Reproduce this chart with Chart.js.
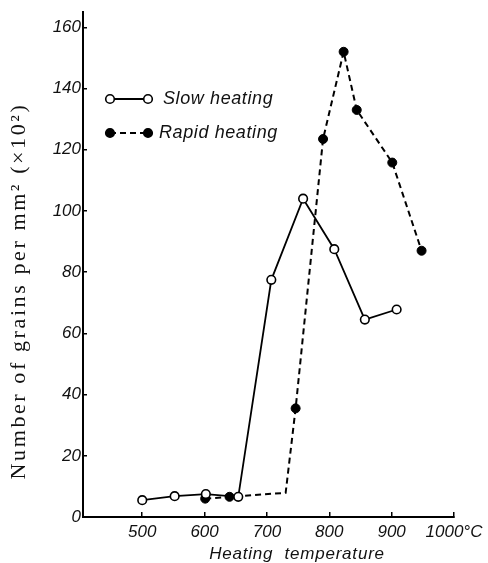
<!DOCTYPE html>
<html>
<head>
<meta charset="utf-8">
<script src="https://cdn.jsdelivr.net/npm/chart.js@4.4.1/dist/chart.umd.min.js"></script>
<style>
  html, body { margin: 0; padding: 0; background: #fff; }
  #wrap { width: 488px; height: 563px; position: relative; }
</style>
</head>
<body>
<div id="wrap"><canvas id="c" width="488" height="563"></canvas></div>
<script>
// ---- data ----
const slowTemp   = [500, 552, 602, 654, 707, 758, 808, 857, 908];
const slowGrains = [5.5, 6.8, 7.5, 6.6, 77.5, 104, 87.5, 64.5, 67.8];

const rapidTemp     = [601, 640, 730, 746, 790, 823, 844, 901, 948];
const rapidGrains   = [6.0, 6.6, 7.9, 35.5, 123.5, 152, 133, 115.8, 87];
const rapidMeasured = [true, true, false, true, true, true, true, true, true];

const xTickValues = [500, 600, 700, 800, 900, 1000];
const xTickLabels = ['500', '600', '700', '800', '900', '1000°C'];
const yTickValues = [0, 20, 40, 60, 80, 100, 120, 140, 160];

const seriesNames = ['Slow heating', 'Rapid heating'];
const xTitle = 'Heating  temperature';
const yTitle = 'Number of grains per mm² (×10²)';

const toPoints = (xs, ys) => xs.map((x, i) => ({ x: x, y: ys[i] }));

const SANS = "'Liberation Sans', Arial, sans-serif";
const tickFont = { family: SANS, size: 17, style: 'italic' };

const titlesAndLegend = {
  id: 'titlesAndLegend',
  afterDraw(chart) {
    const ctx = chart.ctx;
    const ca = chart.chartArea;
    ctx.save();
    // y-axis title (serif, rotated)
    ctx.fillStyle = '#111';
    ctx.font = "22px 'Liberation Serif', 'DejaVu Serif', serif";
    ctx.letterSpacing = '2.6px';
    ctx.textAlign = 'center';
    ctx.textBaseline = 'middle';
    ctx.translate(19, 291);
    ctx.rotate(-Math.PI / 2);
    ctx.fillText(yTitle, 0, 0);
    ctx.restore();

    ctx.save();
    ctx.fillStyle = '#111';
    ctx.font = "italic 17px " + SANS;
    ctx.letterSpacing = '0.8px';
    ctx.textAlign = 'center';
    ctx.textBaseline = 'middle';
    ctx.fillText(xTitle, 297, 554);
    ctx.restore();

    // legend
    const rows = [
      { ds: chart.data.datasets[0], y: ca.top + 87, tx: ca.left + 80 },
      { ds: chart.data.datasets[1], y: ca.top + 121, tx: ca.left + 76 }
    ];
    const x1 = ca.left + 27, x2 = ca.left + 65;
    rows.forEach((r, i) => {
      ctx.save();
      ctx.strokeStyle = r.ds.borderColor;
      ctx.lineWidth = r.ds.borderWidth;
      ctx.setLineDash(r.ds.borderDash || []);
      ctx.beginPath();
      ctx.moveTo(x1, r.y);
      ctx.lineTo(x2, r.y);
      ctx.stroke();
      ctx.setLineDash([]);
      [x1, x2].forEach(px => {
        ctx.beginPath();
        ctx.arc(px, r.y, 4.3, 0, Math.PI * 2);
        ctx.fillStyle = r.ds.pointBackgroundColor;
        ctx.fill();
        ctx.lineWidth = 1.6;
        ctx.strokeStyle = '#000';
        ctx.stroke();
      });
      ctx.fillStyle = '#111';
      ctx.font = "italic 18px " + SANS;
      ctx.letterSpacing = '0.6px';
      ctx.textAlign = 'left';
      ctx.textBaseline = 'middle';
      ctx.fillText(seriesNames[i], r.tx, r.y);
      ctx.restore();
    });
  }
};

new Chart(document.getElementById('c'), {
  type: 'scatter',
  data: {
    datasets: [
      {
        label: seriesNames[0],
        data: toPoints(slowTemp, slowGrains),
        showLine: true,
        borderColor: '#000',
        borderWidth: 1.8,
        pointRadius: 4.3,
        pointBorderWidth: 1.6,
        pointBackgroundColor: '#fff',
        pointBorderColor: '#000',
        order: 1
      },
      {
        label: seriesNames[1],
        data: toPoints(rapidTemp, rapidGrains),
        showLine: true,
        borderColor: '#000',
        borderWidth: 2,
        borderDash: [6, 4],
        pointRadius: ctx => rapidMeasured[ctx.dataIndex] ? 4.5 : 0,
        pointBorderWidth: 1,
        pointBackgroundColor: '#000',
        pointBorderColor: '#000',
        order: 2
      }
    ]
  },
  options: {
    responsive: false,
    animation: false,
    devicePixelRatio: 1,
    layout: { padding: { top: 12, right: 34, left: 0, bottom: 0 } },
    plugins: { legend: { display: false }, tooltip: { enabled: false } },
    scales: {
      x: {
        type: 'linear',
        min: 405,
        max: 1000,
        afterBuildTicks: s => { s.ticks = xTickValues.map(v => ({ value: v })); },
        afterFit: s => { s.height = 46; s.paddingLeft = 0; s.paddingRight = 0; },
        grid: { drawOnChartArea: false, drawTicks: true, tickLength: -5, color: '#000', lineWidth: 1.5 },
        border: { display: true, color: '#000', width: 2 },
        ticks: {
          color: '#111',
          font: tickFont,
          padding: 10,
          maxRotation: 0,
          autoSkip: false,
          callback: (v) => { const i = xTickValues.indexOf(v); return i >= 0 ? xTickLabels[i] : ''; }
        },
        title: { display: false }
      },
      y: {
        type: 'linear',
        min: 0,
        max: 165,
        afterBuildTicks: s => { s.ticks = yTickValues.map(v => ({ value: v })); },
        afterFit: s => { s.width = 83; s.paddingTop = 0; s.paddingBottom = 0; },
        grid: { drawOnChartArea: false, drawTicks: true, tickLength: -4, color: '#000', lineWidth: 1.5 },
        border: { display: true, color: '#000', width: 2 },
        ticks: {
          color: '#111',
          font: tickFont,
          padding: 6,
          autoSkip: false
        },
        title: { display: false }
      }
    }
  },
  plugins: [titlesAndLegend]
});
</script>
</body>
</html>
